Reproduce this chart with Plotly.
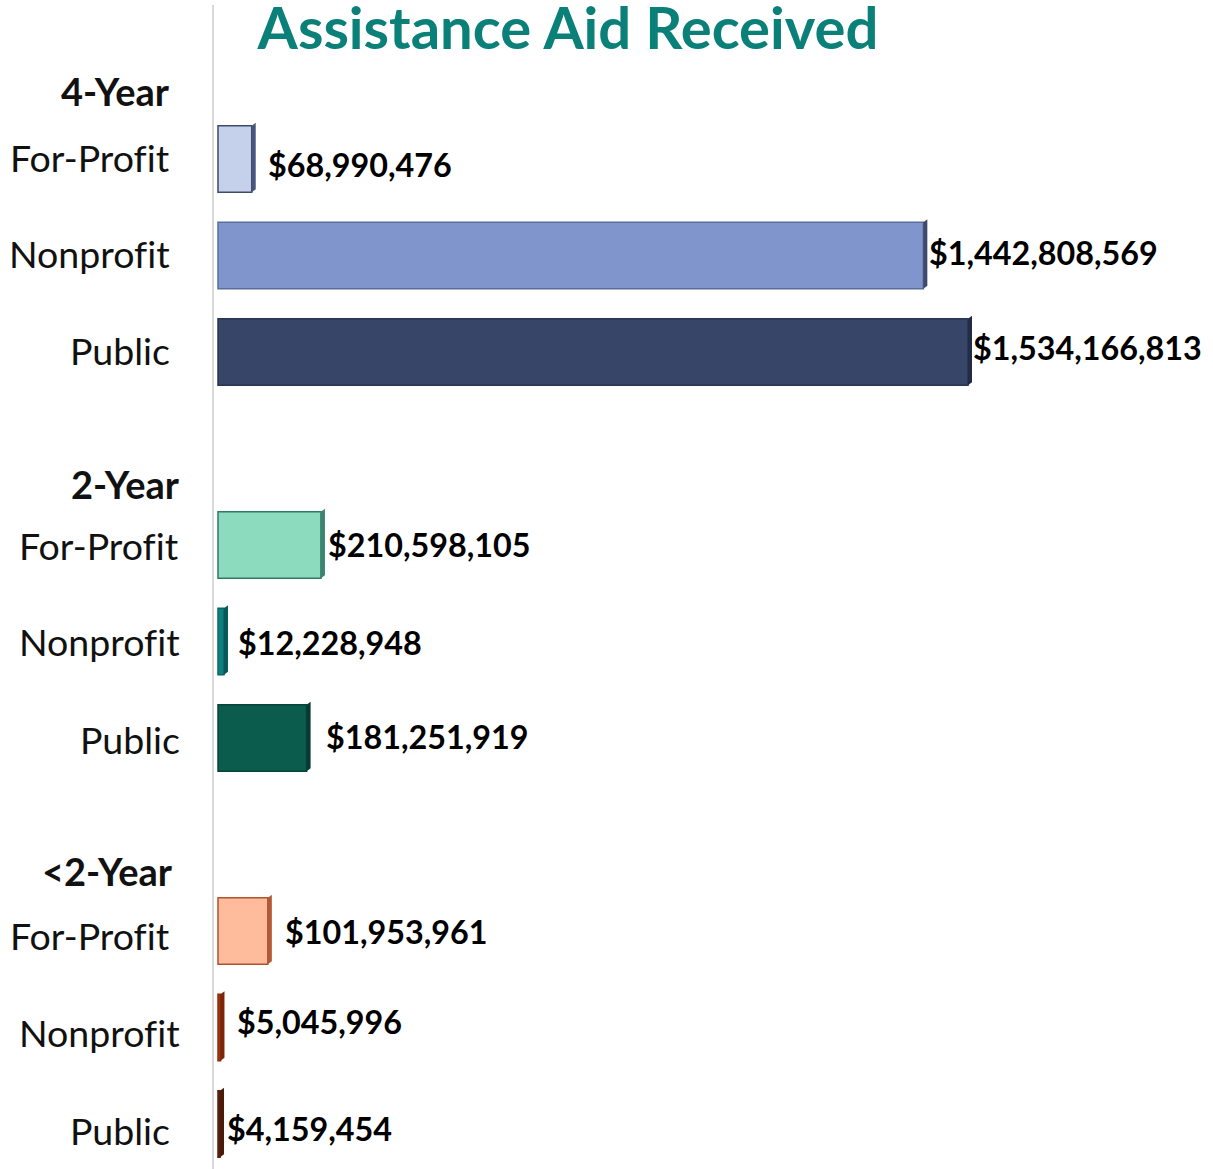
import plotly.graph_objects as go

# Institution groups and sectors
groups = ["4-Year", "2-Year", "<2-Year"]
sectors = ["For-Profit", "Nonprofit", "Public"]

# Assistance aid received, in dollars (For-Profit, Nonprofit, Public)
aid_4yr = [68990476, 1442808569, 1534166813]
aid_2yr = [210598105, 12228948, 181251919]
aid_lt2 = [101953961, 5045996, 4159454]
aid_by_group = [aid_4yr, aid_2yr, aid_lt2]

# Bar colours per group: face fill, outline, side-face shade
fills = [
    ["#c5d0ea", "#7f95cc", "#374569"],
    ["#8ddbbe", "#0e8080", "#0b5c4c"],
    ["#ffbc9c", "#b3380f", "#6b2a10"],
]
edges = [
    ["#3e4a6c", "#5a6d9e", "#2a3552"],
    ["#2e7a66", "#0a6666", "#084538"],
    ["#b0522e", "#8c2a0b", "#4e1f0b"],
]
sides = [
    ["#4a5679", "#3e4a6b", "#222c47"],
    ["#3b8470", "#075858", "#063a30"],
    ["#b25a36", "#7c2409", "#4a1a08"],
]

# Text placement (pixels)
label_right_px = [[170, 170, 170], [179, 180, 180], [170, 180, 170]]
label_lift_px = [[2, 2, 2], [0, 0, -1], [-4, -5, -6]]
header_right_px = [170, 180, 173]
label_gap_px = [[14, 4, 3], [5, 12, 17], [15, 15, 5]]
value_lift_px = [[-5, 3, 5], [1, -1, 2], [0, 6, -4]]

AXIS_LEFT_PX = 214
SLOTS_PER_GROUP = 4
BAR_WIDTH = 0.69
SLOT_PX = 96.5
DEPTH_PX = 4
RISE_PX = 3
HEADER_LIFT = [0.70, 0.63, 0.62]


def no_ligature(s):
    # keep "fi" as two separate glyphs
    return s.replace("fi", "f\u200ci")


fig = go.Figure()
shapes = []
annotations = []

for g, (grp, vals) in enumerate(zip(groups, aid_by_group)):
    slots = [SLOTS_PER_GROUP * g + i for i in range(len(sectors))]
    fig.add_trace(go.Bar(
        x=vals, y=slots, orientation="h", width=BAR_WIDTH,
        marker=dict(color=fills[g], line=dict(color=edges[g], width=1.5)),
        hoverinfo="x", showlegend=False,
    ))
    half = BAR_WIDTH * SLOT_PX / 2
    for i, (v, s) in enumerate(zip(vals, slots)):
        # extruded right-hand face of the bar
        shapes.append(dict(
            type="path", xref="x", yref="y",
            xsizemode="pixel", ysizemode="pixel", xanchor=v, yanchor=s,
            path=(f"M0,{half:.1f} L{DEPTH_PX},{half + RISE_PX:.1f} "
                  f"L{DEPTH_PX},{-half + RISE_PX:.1f} L0,{-half:.1f} Z"),
            fillcolor=sides[g][i], line=dict(width=0), layer="above",
        ))
        # value label
        annotations.append(dict(
            x=v, y=s, xref="x", yref="y", xanchor="left", yanchor="middle",
            xshift=DEPTH_PX + label_gap_px[g][i] - 4, yshift=value_lift_px[g][i],
            text=f"${v:,}", showarrow=False,
            font=dict(family="Lato", size=32.3, color="#000000", weight="bold"),
        ))
        # sector label
        annotations.append(dict(
            x=0, y=s, xref="paper", yref="y", xanchor="right", yanchor="middle",
            xshift=label_right_px[g][i] - AXIS_LEFT_PX + 2,
            yshift=label_lift_px[g][i],
            text=no_ligature(sectors[i]), showarrow=False,
            font=dict(family="Lato", size=37.5, color="#111111"),
        ))
    # group header
    annotations.append(dict(
        x=0, y=slots[0] - HEADER_LIFT[g], xref="paper", yref="y",
        xanchor="right", yanchor="middle",
        xshift=header_right_px[g] - AXIS_LEFT_PX + 2,
        text=f"<b>{grp}</b>", showarrow=False,
        font=dict(family="Lato", size=38, color="#111111"),
    ))

max_val = max(max(v) for v in aid_by_group)
px_per_dollar = 750 / max_val

fig.update_layout(
    width=1213, height=1169,
    margin=dict(l=AXIS_LEFT_PX, r=0, t=5, b=0),
    paper_bgcolor="#ffffff", plot_bgcolor="#ffffff",
    barmode="overlay",
    title=dict(
        text="<b>Assistance Aid Received</b>",
        x=568 / 1213, xanchor="center", xref="container",
        y=1 - 29 / 1169, yanchor="middle", yref="container",
        font=dict(family="Lato", size=58, color="#0a8079"),
    ),
    xaxis=dict(
        visible=False,
        range=[-4 / px_per_dollar, (1213 - 218) / px_per_dollar],
    ),
    yaxis=dict(
        range=[(1169 - 159) / SLOT_PX, (5 - 159) / SLOT_PX],
        showticklabels=False, showgrid=False, zeroline=False,
        showline=True, linecolor="#d9d9d9", linewidth=2, ticks="",
    ),
    shapes=shapes,
    annotations=annotations,
)

fig.write_html("out.html")
